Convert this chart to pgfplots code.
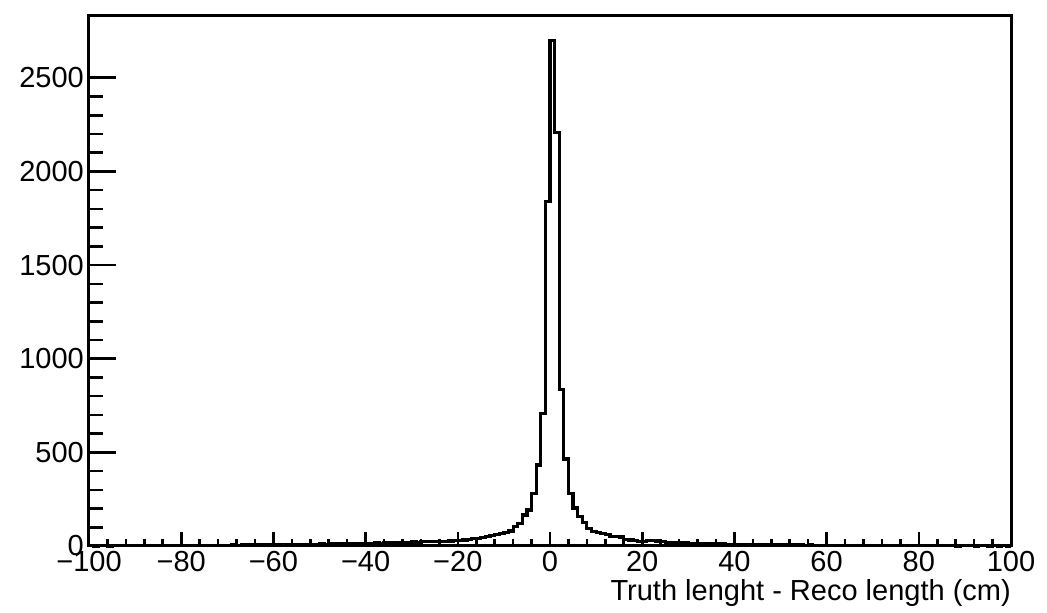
\documentclass[border=0pt]{standalone}
\usepackage{pgfplots}
\pgfplotsset{compat=1.18}
\usepackage{fontspec}
\setmainfont{Liberation Sans}
\begin{document}
\begin{tikzpicture}
\begin{axis}[
  at={(0,0)}, anchor=south west,
  scale only axis, width=922pt, height=530pt,
  xmin=-100, xmax=100, ymin=0, ymax=2830,
  axis line style={line width=3pt},
  every tick/.style={black, line width=2.6pt},
  major tick length=14pt, minor tick length=7pt,
  xtick={-100,-80,-60,-40,-20,0,20,40,60,80,100},
  xticklabels={−100,−80,−60,−40,−20,0,20,40,60,80,100},
  minor x tick num=4,
  ytick={0,500,1000,1500,2000,2500},
  yticklabels={0,500,1000,1500,2000,2500},
  minor y tick num=4,
  ytick style={/pgfplots/major tick length=27pt, /pgfplots/minor tick length=14pt},
  tick align=inside,
  xtick pos=bottom, ytick pos=left,
  ticklabel style={font=\fontsize{29}{33}\selectfont},
  xticklabel style={anchor=north, inner sep=0pt, yshift=-5pt},
  yticklabel style={anchor=east, inner sep=0pt, xshift=-5pt},
  xlabel={Truth lenght - Reco length (cm)},
  xlabel style={at={(rel axis cs:1,0)}, anchor=north east, inner sep=0pt, yshift=-33pt, font=\fontsize{29}{33}\selectfont},
  clip=false,
]
\addplot[const plot, line width=3.2pt, black] table[x=x, y=y] {
x y
-100 1
-99 0
-98 1
-97 1
-96 0
-95 1
-94 1
-93 2
-92 1
-91 1
-90 1
-89 2
-88 1
-87 2
-86 2
-85 1
-84 2
-83 2
-82 3
-81 2
-80 2
-79 3
-78 3
-77 2
-76 3
-75 4
-74 3
-73 3
-72 4
-71 4
-70 4
-69 5
-68 4
-67 5
-66 5
-65 6
-64 5
-63 6
-62 6
-61 7
-60 7
-59 6
-58 8
-57 7
-56 8
-55 9
-54 8
-53 9
-52 10
-51 10
-50 11
-49 10
-48 12
-47 11
-46 12
-45 13
-44 12
-43 14
-42 13
-41 15
-40 14
-39 15
-38 16
-37 15
-36 17
-35 16
-34 18
-33 18
-32 19
-31 20
-30 21
-29 20
-28 22
-27 23
-26 22
-25 24
-24 25
-23 26
-22 27
-21 28
-20 30
-19 32
-18 33
-17 38
-16 41
-15 45
-14 50
-13 58
-12 62
-11 68
-10 70
-9 80
-8 103
-7 121
-6 166
-5 192
-4 281
-3 433
-2 709
-1 1840
0 2700
1 2210
2 837
3 465
4 281
5 203
6 157
7 125
8 95
9 76
10 71
11 68
12 62
13 52
14 50
15 48
16 35
17 32
18 30
19 24
20 22
21 28
22 30
23 27
24 22
25 20
26 19
27 18
28 17
29 16
30 15
31 15
32 14
33 13
34 13
35 12
36 11
37 11
38 10
39 10
40 9
41 9
42 8
43 8
44 8
45 7
46 7
47 7
48 6
49 6
50 6
51 5
52 5
53 5
54 5
55 4
56 5
57 4
58 4
59 3
60 4
61 3
62 3
63 3
64 3
65 3
66 2
67 3
68 2
69 2
70 2
71 3
72 2
73 2
74 2
75 2
76 1
77 2
78 1
79 2
80 1
81 1
82 2
83 1
84 1
85 1
86 1
87 1
88 0
89 1
90 1
91 1
92 0
93 1
94 1
95 0
96 1
97 0
98 1
99 0
100 0
};
\end{axis}
\path[use as bounding box] (-89pt,-67pt) rectangle (958pt,546pt);
\end{tikzpicture}
\end{document}
